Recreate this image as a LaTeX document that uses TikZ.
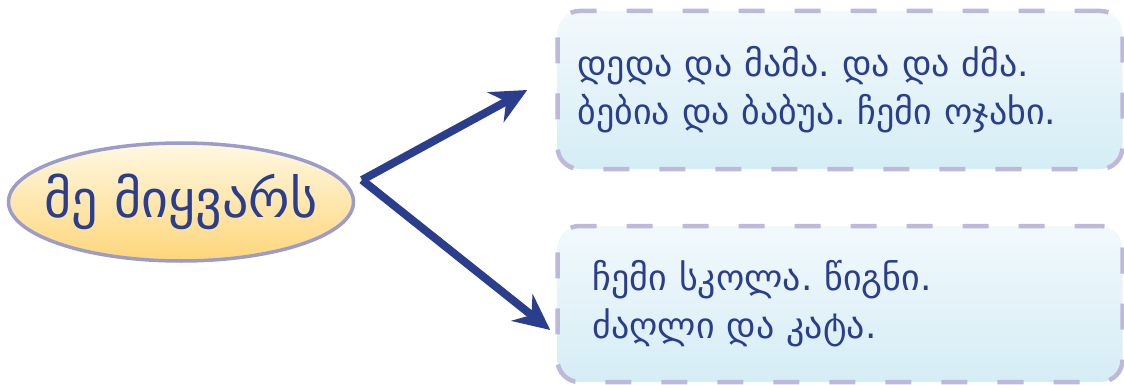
\documentclass[tikz,border=0pt]{standalone}
\usepackage{fontspec}
\setmainfont{DejaVu Sans}
\usetikzlibrary{arrows.meta,shapes.geometric}
\definecolor{inkblue}{HTML}{2B3E8E}
\definecolor{ovaltop}{HTML}{FFF8E2}
\definecolor{ovalbottom}{HTML}{FDD67A}
\definecolor{ovalline}{HTML}{9C9CCB}
\definecolor{boxtop}{HTML}{F2F9FC}
\definecolor{boxbottom}{HTML}{D5EDF5}
\definecolor{boxline}{HTML}{BDB9DB}
\frenchspacing
\tikzset{
  topic/.style={ellipse, draw=ovalline, line width=3.5pt, top color=ovaltop, bottom color=ovalbottom,
    inner sep=0pt, minimum width=345pt, minimum height=118pt, text=inkblue,
    font=\fontsize{52}{58}\selectfont},
  notebox/.style={rectangle, rounded corners=22pt, draw=boxline, line width=4.5pt,
    dash pattern=on 26pt off 30pt, top color=boxtop, bottom color=boxbottom,
    minimum width=565pt, text=inkblue, align=left, inner xsep=20pt,
    font=\fontsize{36}{48}\selectfont},
  link/.style={draw=inkblue, line width=8pt, -{Stealth[length=36pt,width=34pt,inset=12pt]}}
}
\begin{document}
\begin{tikzpicture}[x=1pt, y=-1pt]
  \useasboundingbox (0, 0) rectangle (1124, 385);
  \node[topic] (me) at (181, 202) {\makebox[0pt]{მე მიყვარს}};
  \node[notebox, minimum height=158pt, text width=525pt] (family) at (840, 90)
    {დედა და მამა. და და ძმა.\\ბებია და ბაბუა. ჩემი ოჯახი.};
  \node[notebox, minimum height=156pt, text width=495pt, inner xsep=35pt] (school) at (840, 304)
    {ჩემი სკოლა. წიგნი.\\ძაღლი და კატა.};
  \coordinate (fork) at (362, 180);
  \draw[link] (fork) -- ([xshift=-28pt]family.west);
  \draw[link] (fork) -- ([shift={(-5pt,-26pt)}]school.west);
\end{tikzpicture}
\end{document}
